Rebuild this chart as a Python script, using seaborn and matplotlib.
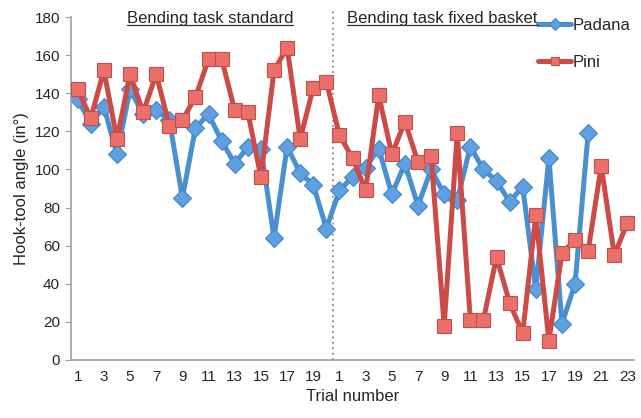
import numpy as np
import pandas as pd
import seaborn as sns
import matplotlib
matplotlib.use("Agg")
import matplotlib.pyplot as plt
from matplotlib.lines import Line2D

# trial labels: 20 standard trials, then 23 fixed-basket trials
trials_standard = list(range(1, 21))
trials_fixed = list(range(1, 24))
trial_labels = [str(t) for t in trials_standard + trials_fixed]

# hook-tool angles
padana = [137, 124, 133, 108, 142, 129, 131, 126, 85, 122,
          129, 115, 103, 112, 111, 64, 112, 98, 92, 69,
          89, 96, 101, 111, 87, 103, 81, 100, 87, 84,
          112, 100, 94, 83, 91, 37, 106, 19, 40, 119]
pini = [142, 127, 152, 116, 150, 130, 150, 123, 126, 138,
        158, 158, 131, 130, 96, 152, 164, 116, 143, 146,
        118, 106, 89, 139, 108, 125, 104, 107, 18, 119,
        21, 21, 54, 30, 14, 76, 10, 56, 63, 57,
        102, 55, 72]

sns.set_style("white")
plt.rcParams['font.family'] = ['Liberation Sans', 'DejaVu Sans']

df = pd.concat([
    pd.DataFrame({'idx': np.arange(len(padana)), 'angle': padana, 'series': 'Padana'}),
    pd.DataFrame({'idx': np.arange(len(pini)), 'angle': pini, 'series': 'Pini'}),
])

fig = plt.figure(figsize=(6.41, 4.18), dpi=100)
ax = fig.add_axes([0.111, 0.139, 0.878, 0.82])

sns.lineplot(data=df[df.series == 'Padana'], x='idx', y='angle', ax=ax,
             color='#4a8fd0', lw=3.6, marker='D', markersize=9,
             markerfacecolor='#5fa0e0', markeredgecolor='#3f86cc', markeredgewidth=0.8,
             label='Padana', zorder=2)
sns.lineplot(data=df[df.series == 'Pini'], x='idx', y='angle', ax=ax,
             color='#cc4b47', lw=3.6, marker='s', markersize=10,
             markerfacecolor='#ec6f6a', markeredgecolor='#c0504d', markeredgewidth=0.8,
             label='Pini', zorder=3)

n = len(trial_labels)
ax.set_xlim(-0.5, n - 0.5)
ax.set_ylim(0, 180)
ax.set_yticks(range(0, 181, 20))
ax.set_xticks(np.arange(0, n, 2))
ax.set_xticklabels(trial_labels[::2])
ax.set_xticks(np.arange(-0.5, n, 1), minor=True)
ax.tick_params(axis='x', which='major', length=0, pad=7, labelsize=11)
ax.tick_params(axis='x', which='minor', length=4, color='#a0a0a0', direction='out')
ax.tick_params(axis='y', length=4, color='#a0a0a0', direction='out', labelsize=11, left=True, pad=4)

for s in ['top', 'right']:
    ax.spines[s].set_visible(False)
for s in ['left', 'bottom']:
    ax.spines[s].set_color('#a0a0a0')
    ax.spines[s].set_linewidth(1.2)

ax.set_xlabel('Trial number', fontsize=12, labelpad=4)
ax.set_ylabel('Hook-tool angle (in°)', fontsize=12, labelpad=4)

# divider between the two tasks
split = len(trials_standard) - 0.5
ax.plot([split, split], [0, 184], ls=(0, (1, 2)), color='#888888', lw=1.3,
        clip_on=False, zorder=1)

t1 = ax.text(10.1, 179.5, 'Bending task standard', ha='center', va='center', fontsize=12)
t2 = ax.text(20.6, 179.5, 'Bending task fixed basket', ha='left', va='center', fontsize=12)

leg = ax.legend(loc='upper left', bbox_to_anchor=(0.815, 1.022), frameon=False,
                borderpad=0, labelspacing=1.3, handlelength=2.0, handletextpad=0.05,
                fontsize=12)
for h in leg.legend_handles:
    h.set_markersize(6)

fig.canvas.draw()
inv = fig.transFigure.inverted()
for t in (t1, t2):
    bb = t.get_window_extent()
    (x0, y0), (x1, _) = inv.transform([(bb.x0, bb.y0), (bb.x1, bb.y0)])
    fig.add_artist(Line2D([x0, x1], [y0 + 0.002, y0 + 0.002], color='#333333', lw=0.9))

fig.savefig('out.png', dpi=100)
